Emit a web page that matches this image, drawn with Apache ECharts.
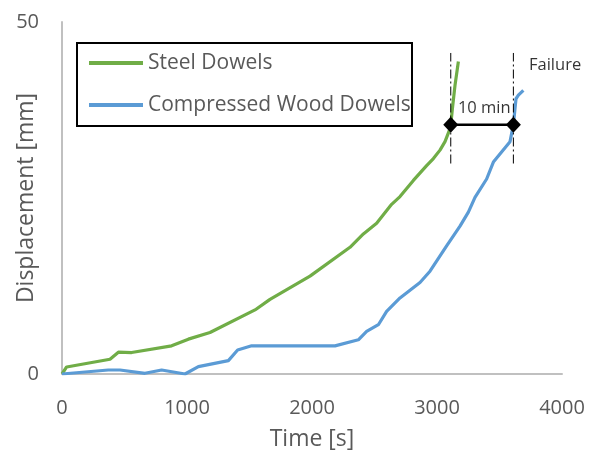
<!DOCTYPE html>
<html>
<head>
<meta charset="utf-8">
<script src="https://cdn.jsdelivr.net/npm/echarts@6/dist/echarts.min.js"></script>
<style>html,body{margin:0;padding:0;background:#fff;}#c{width:598px;height:457px;}</style>
</head>
<body>
<div id="c"></div>
<script>
var steelT = [0, 37, 384, 451, 557, 877, 1011, 1184, 1544, 1664, 1984, 2304, 2411, 2517, 2637, 2704, 2811, 2917, 2971, 3024, 3064, 3099, 3110, 3125, 3144, 3171];
var steelD = [0, 1.0, 2.1, 3.1, 3.05, 4.0, 4.95, 5.9, 9.1, 10.6, 13.9, 18.0, 19.9, 21.4, 24.1, 25.2, 27.5, 29.6, 30.6, 31.8, 33.0, 34.6, 35.4, 38.0, 41.0, 44.4];
var woodT = [0, 370, 464, 664, 797, 984, 1091, 1331, 1405, 1517, 2184, 2371, 2437, 2531, 2597, 2704, 2864, 2944, 3077, 3184, 3251, 3304, 3397, 3451, 3584, 3611, 3624, 3632, 3651, 3691];
var woodD = [0, 0.57, 0.57, 0.1, 0.57, 0, 1.05, 1.9, 3.4, 4.0, 4.0, 4.86, 6.05, 7.0, 8.9, 10.8, 13.0, 14.6, 18.2, 21.0, 23.0, 25.1, 27.7, 30.1, 33.0, 35.4, 37.7, 39.1, 39.6, 40.3];
var markerT = [3110, 3611];
var markerD = [35.4, 35.4];
var vlineT = [3110, 3611];
var vlineD = [29.9, 45.6];
var noteText = ['10 min', 'Failure'];
var noteT = [3378, 3736];
var noteD = [37.7, 43.9];
var xTicks = [0, 1000, 2000, 3000, 4000];
var yTicks = [0, 50];

function zip(a, b) { return a.map(function (v, i) { return [v, b[i]]; }); }

var chart = echarts.init(document.getElementById('c'), null, { renderer: 'canvas' });
var font = 'Open Sans';
var series = [
  {
    name: 'Steel Dowels', type: 'line', data: zip(steelT, steelD), symbol: 'none',
    lineStyle: { color: '#70ad47', width: 3.2 }, itemStyle: { color: '#70ad47' }, z: 3
  },
  {
    name: 'Compressed Wood Dowels', type: 'line', data: zip(woodT, woodD), symbol: 'none',
    lineStyle: { color: '#5b9bd5', width: 3.2 }, itemStyle: { color: '#5b9bd5' }, z: 3
  }
];
vlineT.forEach(function (t) {
  series.push({
    type: 'line', data: [[t, vlineD[0]], [t, vlineD[1]]], symbol: 'none', silent: true,
    lineStyle: { color: '#000', width: 1, type: [9, 3, 2, 3] }, z: 4
  });
});
series.push({
  type: 'line', data: zip(markerT, markerD), symbol: 'diamond', symbolSize: [15, 16],
  lineStyle: { color: '#000', width: 2.5 }, itemStyle: { color: '#000' }, z: 5
});
var notes = noteT.map(function (t, i) { return { value: [t, noteD[i]], name: noteText[i] }; });
notes[1].label = { position: 'right', distance: 0 };
series.push({
  type: 'scatter', symbolSize: 0, z: 6, silent: true,
  data: notes,
  label: {
    show: true, formatter: function (p) { return p.name; }, color: '#000',
    fontFamily: font, fontSize: 16.5,
    position: 'inside'
  }
});

chart.setOption({
  animation: false,
  grid: { left: 62, right: 36, top: 22, bottom: 83, containLabel: false, outerBoundsMode: 'none' },
  legend: {
    data: ['Steel Dowels', 'Compressed Wood Dowels'],
    orient: 'vertical', left: 89, top: 52, padding: 0,
    icon: 'rect', itemWidth: 54, itemHeight: 4, itemGap: 20,
    textStyle: { color: '#595959', fontFamily: font, fontSize: 21, lineHeight: 22 }
  },
  graphic: [{
    type: 'rect', shape: { x: 77, y: 43, width: 335, height: 83 },
    style: { fill: 'none', stroke: '#000', lineWidth: 2 }, z: 10
  }],
  xAxis: {
    type: 'value', min: 0, max: 4000, interval: 1000,
    name: 'Time [s]', nameLocation: 'middle', nameGap: 54, nameMoveOverlap: false,
    nameTextStyle: { color: '#595959', fontFamily: font, fontSize: 23 },
    axisLine: { show: true, lineStyle: { color: '#c0c0c0', width: 2 } },
    axisTick: { show: false }, splitLine: { show: false },
    axisLabel: { color: '#595959', fontFamily: font, fontSize: 20, margin: 24,
      formatter: function (v) { return String(v); } }
  },
  yAxis: {
    type: 'value', min: 0, max: 50, interval: 50,
    name: 'Displacement [mm]', nameLocation: 'middle', nameGap: 24, nameMoveOverlap: false,
    nameTextStyle: { color: '#595959', fontFamily: font, fontSize: 23 },
    axisLine: { show: true, lineStyle: { color: '#c0c0c0', width: 2 } },
    axisTick: { show: false }, splitLine: { show: false },
    axisLabel: { color: '#595959', fontFamily: font, fontSize: 20, margin: 23,
      formatter: function (v) { return String(v); } }
  },
  series: series
});
</script>
</body>
</html>
